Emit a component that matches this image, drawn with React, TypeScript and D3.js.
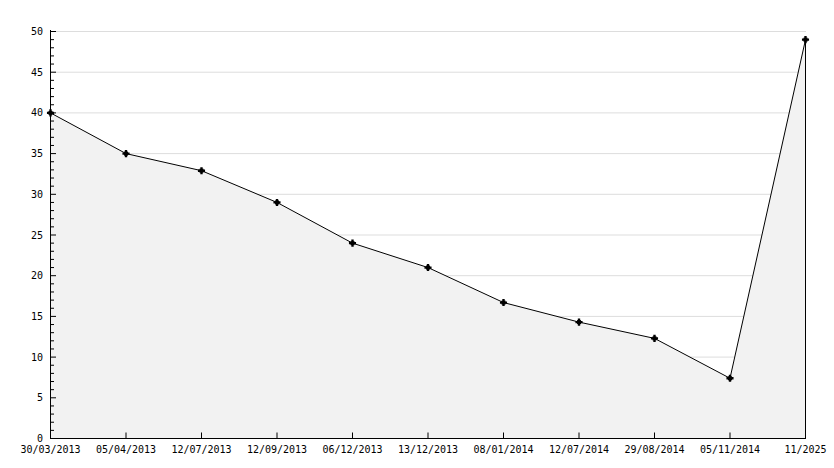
import React from "react";
import * as d3 from "d3";

const categories = ["30/03/2013","05/04/2013","12/07/2013","12/09/2013","06/12/2013","13/12/2013","08/01/2014","12/07/2014","29/08/2014","05/11/2014","11/2025"];
const values = [40, 35, 32.9, 29, 24, 21, 16.7, 14.3, 12.3, 7.4, 49];
const yTicks = [0, 5, 10, 15, 20, 25, 30, 35, 40, 45, 50];

export default function App() {
  const W = 834, H = 468;
  const x = d3.scalePoint<string>().domain(categories).range([50.5, 805.5]);
  const y = d3.scaleLinear().domain([0, 50]).range([438.5, 31.5]);
  const pts = categories.map((c, i) => [x(c)!, y(values[i])] as [number, number]);
  const area = d3.area<[number, number]>().x(d => d[0]).y0(y(0)).y1(d => d[1])(pts)!;
  const line = d3.line<[number, number]>().x(d => d[0]).y(d => d[1])(pts)!;
  const minor = d3.range(0, 51, 1);
  const font = "'DejaVu Sans Mono', monospace";
  return (
    <svg width={W} height={H} style={{ position: "absolute", left: 0, top: 0, background: "#fff" }}>
      {yTicks.filter(t => t > 0).map(t => (
        <line key={"g" + t} x1={50} x2={806} y1={y(t)} y2={y(t)} stroke="#dddddd" />
      ))}
      <path d={area} fill="#f2f2f2" />
      <line x1={805.5} x2={805.5} y1={y(values[10])} y2={y(0)} stroke="#000" />
      {minor.map(t => (
        <line key={"m" + t} x1={50} x2={t % 5 === 0 ? 56 : 54} y1={y(t)} y2={y(t)} stroke="#000" />
      ))}
      {categories.map(c => (
        <line key={"xt" + c} x1={x(c)} x2={x(c)} y1={y(0)} y2={y(0) - 6} stroke="#000" />
      ))}
      <line x1={50.5} x2={50.5} y1={30} y2={439} stroke="#000" />
      <line x1={50} x2={806} y1={438.5} y2={438.5} stroke="#000" />
      <path d={line} fill="none" stroke="#000" strokeWidth={1} />
      {pts.map((p, i) => (
        <g key={"p" + i} transform={`translate(${p[0]},${p[1]})`}>
          <rect x={-2} y={-2} width={4} height={4} fill="#000" />
          <path d={d3.symbol(d3.symbolCross, 28)()!} fill="#000" />
        </g>
      ))}
      {yTicks.map(t => (
        <text key={"yl" + t} x={43} y={y(t)} textAnchor="end" dominantBaseline="central" fontFamily={font} fontSize={10} fill="#000">{t}</text>
      ))}
      {categories.map(c => (
        <text key={"xl" + c} x={x(c)} y={453} textAnchor="middle" fontFamily={font} fontSize={10} fill="#000">{c}</text>
      ))}
    </svg>
  );
}
